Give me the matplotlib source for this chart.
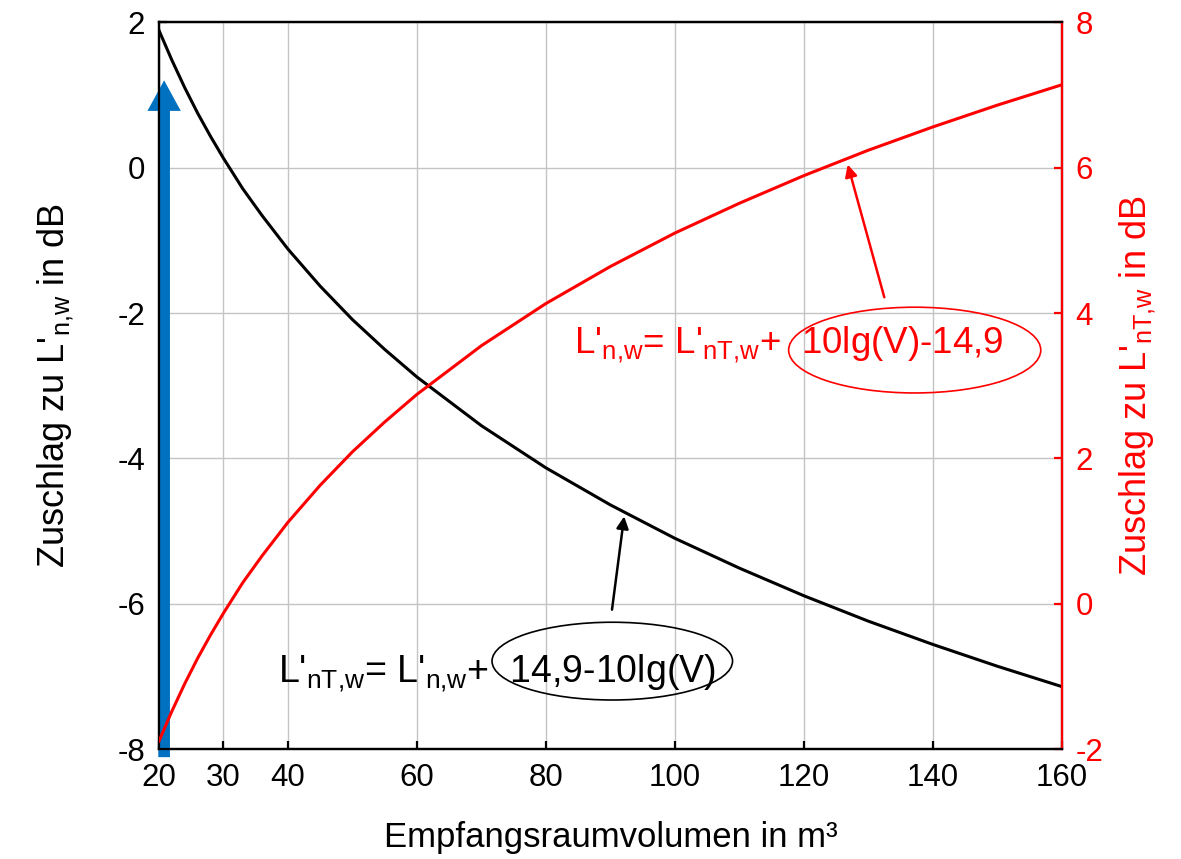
import matplotlib
matplotlib.use("Agg")
import matplotlib.pyplot as plt
from matplotlib.patches import Ellipse, FancyArrowPatch

plt.rcParams['font.family'] = ['Liberation Sans', 'DejaVu Sans']
plt.rcParams['mathtext.fontset'] = 'custom'
plt.rcParams['mathtext.rm'] = 'Liberation Sans'
plt.rcParams['axes.unicode_minus'] = False

# Raumvolumen V in m³
volume = [20, 22, 24, 26, 28, 30, 33, 36, 40, 45, 50, 55, 60, 70, 80, 90,
          100, 110, 120, 130, 140, 150, 160]
# Zuschlag zu L'n,w (left axis, black curve)
add_nw = [1.89, 1.48, 1.10, 0.75, 0.43, 0.13, -0.29, -0.66, -1.12, -1.63,
          -2.09, -2.50, -2.88, -3.55, -4.13, -4.64, -5.10, -5.51, -5.89,
          -6.24, -6.56, -6.86, -7.14]
# Zuschlag zu L'nT,w (right axis, red curve)
add_ntw = [-1.89, -1.48, -1.10, -0.75, -0.43, -0.13, 0.29, 0.66, 1.12, 1.63,
           2.09, 2.50, 2.88, 3.55, 4.13, 4.64, 5.10, 5.51, 5.89, 6.24, 6.56,
           6.86, 7.14]

x_ticks = [20, 30, 40, 60, 80, 100, 120, 140, 160]
left_ticks = [-8, -6, -4, -2, 0, 2]
right_ticks = [-2, 0, 2, 4, 6, 8]

RED = '#ff0000'
BLUE = '#0070c0'

NW = r"$_{\mathregular{n{,}w}}$"
NTW = r"$_{\mathregular{nT{,}w}}$"

fig = plt.figure(figsize=(11.81, 8.59), dpi=100)
ax = fig.add_axes([0.1346, 0.128, 0.899 - 0.1346, 0.974 - 0.128])
ax2 = ax.twinx()

ax.set_xlim(20, 160)
ax.set_ylim(-8, 2)
ax2.set_ylim(-2, 8)
ax.set_xticks(x_ticks)
ax.set_yticks(left_ticks)
ax2.set_yticks(right_ticks)

ax.grid(True, color='#c4c4c4', lw=1.0)
ax.set_axisbelow(True)

ax.plot(volume, add_nw, color='black', lw=2.2, zorder=3)
ax2.plot(volume, add_ntw, color=RED, lw=2.2, zorder=3)

for a in (ax, ax2):
    for sp in a.spines.values():
        sp.set_linewidth(1.6)
ax2.spines['right'].set_color(RED)

ax.tick_params(axis='both', direction='in', length=6, width=1.6,
               labelsize=22.5, pad=10, top=False, right=False)
ax2.tick_params(axis='y', direction='in', length=6, width=1.6,
                labelsize=22.5, pad=10, colors=RED)

ax.set_xlabel('Empfangsraumvolumen in m³', fontsize=25, labelpad=20)
ax.set_ylabel("Zuschlag zu L'" + NW + " in dB", fontsize=26, labelpad=30)
ax2.set_ylabel("Zuschlag zu L'" + NTW + " in dB", fontsize=26,
               color=RED, labelpad=10)

# blue arrow along the left edge
blue = FancyArrowPatch((20.8, -8.15), (20.8, 1.24),
                       arrowstyle='simple,head_width=1.2,head_length=1.1,tail_width=0.42',
                       mutation_scale=20, color=BLUE, lw=0, zorder=6,
                       clip_on=False)
ax.add_patch(blue)

# formula annotations
ax.text(38.4, -7.08, "L'" + NTW + "= L'" + NW + "+  14,9-10lg(V)",
        fontsize=27, color='black', va='baseline', zorder=5)
ax.add_patch(Ellipse((90.3, -6.79), 37.3, 1.07, fill=False, ec='black',
                     lw=1.2, zorder=5))
ax.annotate('', xy=(92.2, -4.76), xytext=(90.2, -6.12),
            arrowprops=dict(arrowstyle='-|>', color='black', lw=1.8,
                            mutation_scale=18), zorder=5)

ax.text(84.3, -2.55, "L'" + NW + "= L'" + NTW + "+  10lg(V)-14,9",
        fontsize=26.5, color=RED, va='baseline', zorder=5)
ax.add_patch(Ellipse((137.2, -2.51), 39.1, 1.18, fill=False, ec=RED,
                     lw=1.2, zorder=5))
ax.annotate('', xy=(126.7, 0.08), xytext=(132.6, -1.82),
            arrowprops=dict(arrowstyle='-|>', color=RED, lw=1.8,
                            mutation_scale=18), zorder=5)

fig.savefig('out.png', dpi=100)
